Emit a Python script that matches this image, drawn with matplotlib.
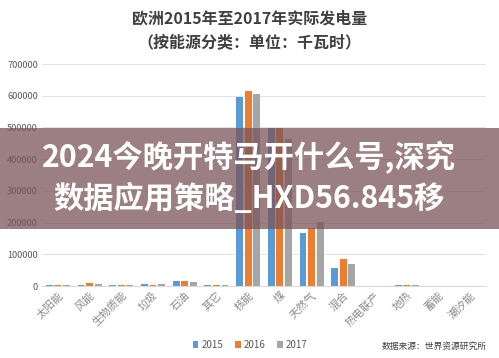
import numpy as np
import matplotlib
matplotlib.use('Agg')
import matplotlib.pyplot as plt
from matplotlib.patches import Rectangle

plt.rcParams['font.family'] = ['Noto Sans CJK SC', 'DejaVu Sans']

# 数据
categories = ['太阳能', '风能', '生物质能', '垃圾', '石油', '其它', '核能', '煤',
              '天然气', '混合', '热电联产', '地热', '蓄能', '潮汐能']
years = ['2015', '2016', '2017']
v2015 = [2000, 2000, 4000, 7000, 16000, 2000, 595000, 497000, 166000, 58000, 0, 2000, 0, 0]
v2016 = [2000, 10000, 4000, 2000, 16000, 2000, 615000, 497000, 183000, 84000, 0, 2000, 0, 0]
v2017 = [2000, 5000, 4000, 6000, 12000, 2000, 605000, 463000, 202000, 69000, 0, 2000, 0, 0]
colors = ['#5B9BD5', '#ED7D31', '#A5A5A5']

fig = plt.figure(figsize=(4.99, 3.58), dpi=100, facecolor='white')
ax = fig.add_axes([42 / 499, 1 - 286 / 358, 444 / 499, 222 / 358])

x = np.arange(len(categories))
w = 0.22
for i, (vals, c) in enumerate(zip([v2015, v2016, v2017], colors)):
    ax.bar(x + (i - 1) * 0.27, vals, width=w, color=c, label=years[i], zorder=2)

ax.set_xlim(-0.5, len(categories) - 0.5)
ax.set_ylim(0, 700000)
ax.set_yticks(range(0, 700001, 100000))
ax.set_yticklabels([str(v) for v in range(0, 700001, 100000)], fontsize=6.6, color='#595959')
ax.set_xticks(x)
ax.set_xticklabels(categories, rotation=45, ha='right', rotation_mode='anchor',
                   fontsize=7.8, color='#8a8a8a')
ax.grid(axis='y', color='#e3e3e3', linewidth=0.7, zorder=0)
for s in ['top', 'right', 'left']:
    ax.spines[s].set_visible(False)
ax.spines['bottom'].set_color('#d9d9d9')
ax.tick_params(length=0, pad=3)

# 标题
fig.text(0.5, 1 - 18 / 358, '欧洲2015年至2017年实际发电量', fontsize=11.5, fontweight='bold',
         color='#404040', ha='center', va='center')
fig.text(0.5, 1 - 42 / 358, '（按能源分类：单位：千瓦时）', fontsize=11.5, fontweight='bold',
         color='#404040', ha='center', va='center')

# 图例
leg = fig.legend(loc='center', bbox_to_anchor=(250 / 499, 1 - 345 / 358), ncol=3, frameon=False,
                 fontsize=7, handlelength=0.6, handleheight=0.6, handletextpad=0.3, columnspacing=1.2)
for t in leg.get_texts():
    t.set_color('#595959')

fig.text(487 / 499, 1 - 346 / 358, '数据来源：世界资源研究所', fontsize=6.3, color='#404040',
         ha='right', va='center')

# 覆盖横幅
fig.patches.append(Rectangle((0, 1 - 229 / 358), 1, 101 / 358, transform=fig.transFigure,
                             facecolor=(123 / 255, 84 / 255, 88 / 255), alpha=0.75,
                             edgecolor='none', zorder=5))
fig.text(249 / 499, 1 - 158 / 358, '2024今晚开特马开什么号,深究', fontsize=21.8, fontweight='bold',
         color='white', ha='center', va='center', zorder=6)
fig.text(249 / 499, 1 - 199 / 358, '数据应用策略_HXD56.845移', fontsize=21.8, fontweight='bold',
         color='white', ha='center', va='center', zorder=6)

fig.savefig('out.png', dpi=100)
